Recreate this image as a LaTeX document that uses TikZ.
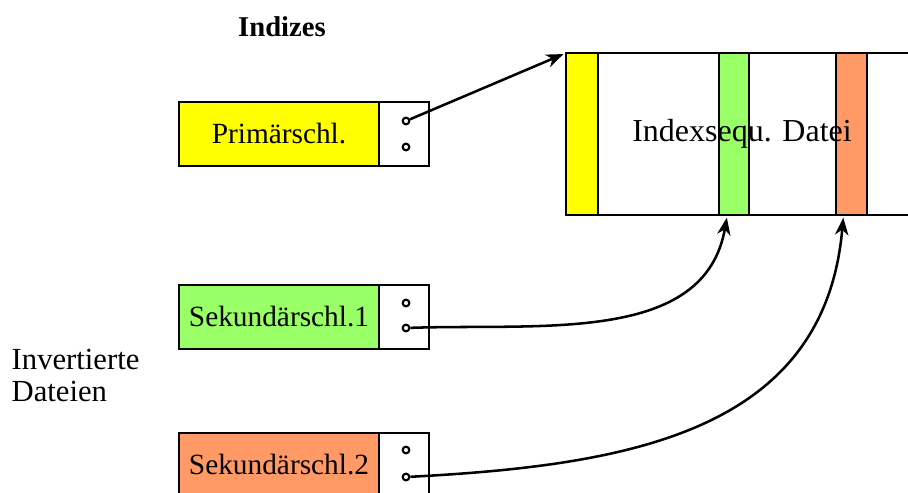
\documentclass[tikz,border=0pt]{standalone}
\usepackage{fontspec}
\setmainfont{Liberation Serif}
\usetikzlibrary{positioning,arrows.meta}

\definecolor{pkyellow}{HTML}{FFFF00}
\definecolor{skgreen}{HTML}{99FF66}
\definecolor{skorange}{HTML}{FF9966}

\begin{document}
\begin{tikzpicture}[
		x=0.75pt, y=0.75pt,
		line width=1.9pt,
		key/.style={rectangle, draw, minimum width=150pt, minimum height=48pt, inner sep=0pt, outer sep=0pt, font=\fontsize{22}{24}\selectfont},
		ptr/.style={rectangle, draw, fill=white, minimum width=37.5pt, minimum height=48pt, outer sep=0pt},
		dot/.style={circle, draw, line width=1.6pt, inner sep=0pt, minimum size=5pt},
		strip/.style={rectangle, draw, minimum height=121.5pt, outer sep=0pt},
		link/.style={-{Stealth[length=13pt,width=10pt,inset=4pt]}, line width=1.9pt, shorten >=2pt}
	]
	\useasboundingbox (0,0) rectangle (908,-493);

	\node[font=\fontsize{21.5}{24}\selectfont\bfseries] (title) at (282,-27) {Indizes};
	\node[anchor=west, align=left, font=\fontsize{23}{24}\selectfont] (inv) at (6,-375) {Invertierte\\Dateien};

	% indexsequentielle Datei
	\draw (908,-53) -- (566,-53) -- (566,-215) -- (908,-215);
	\node[strip, fill=pkyellow, minimum width=24pt] (ys) at (582,-134) {};
	\node[strip, fill=skgreen, minimum width=22.5pt] (gs) at (734,-134) {};
	\node[strip, fill=skorange, minimum width=23pt] (os) at (851.5,-134) {};
	\node[font=\fontsize{24}{28}\selectfont] (file) at (742,-134) {Indexsequ. Datei};

	% Schluessel
	\node[key, fill=pkyellow] (pk) at (279,-134) {Primärschl.};
	\node[ptr, right=0pt of pk] (pkp) {};
	\path (pkp.center) ++(2,13) node[dot] (pkt) {} (pkp.center) ++(2,-13) node[dot] (pkb) {};

	\node[key, fill=skgreen] (sk1) at (279,-317) {Sekundärschl.1};
	\node[ptr, right=0pt of sk1] (sk1p) {};
	\path (sk1p.center) ++(2,14) node[dot] (sk1t) {} (sk1p.center) ++(2,-11) node[dot] (sk1b) {};

	\node[key, fill=skorange] (sk2) at (279,-465) {Sekundärschl.2};
	\node[ptr, right=0pt of sk2] (sk2p) {};
	\path (sk2p.center) ++(2,15) node[dot] (sk2t) {} (sk2p.center) ++(2,-12) node[dot] (sk2b) {};

	\draw[link] (pkt) -- (ys.north west);
	\draw[link] (sk1b) to[out=2, in=-100] ([xshift=-5pt]gs.south);
	\draw[link] (sk2b) to[out=3, in=-95, looseness=1.1] ([xshift=-6pt]os.south);
\end{tikzpicture}
\end{document}
